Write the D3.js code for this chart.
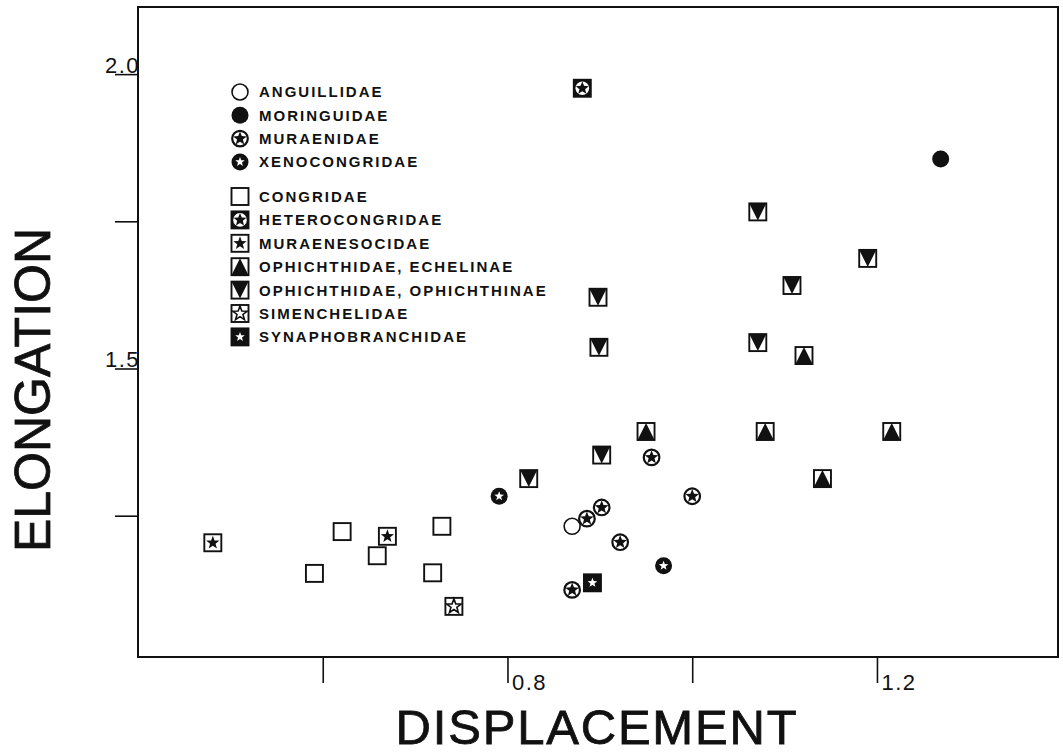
<!DOCTYPE html>
<html>
<head>
<meta charset="utf-8">
<script src="https://cdn.jsdelivr.net/npm/d3@7"></script>
<style>
  body { margin: 0; background: #fff; }
  svg { display: block; }
  .legend text { font-family: "Liberation Sans", Arial, sans-serif; font-weight: bold; font-size: 15px; letter-spacing: 2px; fill: #111; }
  .title { font-family: "Liberation Sans", Arial, sans-serif; font-size: 50px; fill: #111; stroke: #111; stroke-width: 0.8px; }
</style>
</head>
<body>
<script>
// chart size
var width = 1063,
    height = 753;

// data: [displacement, elongation] per family
var anguillidae = [[0.870, 1.232]];
var moringuidae = [[1.269, 1.856]];
var muraenidae = [[0.956, 1.349], [1.000, 1.283], [0.902, 1.264], [0.886, 1.245], [0.922, 1.205], [0.870, 1.124]];
var xenocongridae = [[0.791, 1.283], [0.969, 1.165]];
var congridae = [[0.591, 1.152], [0.621, 1.223], [0.659, 1.182], [0.729, 1.232], [0.719, 1.153]];
var heterocongridae = [[0.881, 1.976]];
var muraenesocidae = [[0.481, 1.204], [0.670, 1.215]];
var echelinae = [[0.950, 1.393], [1.079, 1.393], [1.216, 1.393], [1.141, 1.313], [1.121, 1.522]];
var ophichthinae = [[1.071, 1.766], [1.190, 1.687], [1.108, 1.641], [0.898, 1.621], [0.899, 1.536], [1.071, 1.544], [0.902, 1.353], [0.823, 1.313]];
var simenchelidae = [[0.742, 1.096]];
var synaphobranchidae = [[0.892, 1.136]];

// legend labels (two groups) and the symbol each one uses
var legendGroup1 = ["ANGUILLIDAE", "MORINGUIDAE", "MURAENIDAE", "XENOCONGRIDAE"];
var legendGroup2 = ["CONGRIDAE", "HETEROCONGRIDAE", "MURAENESOCIDAE", "OPHICHTHIDAE, ECHELINAE",
                    "OPHICHTHIDAE, OPHICHTHINAE", "SIMENCHELIDAE", "SYNAPHOBRANCHIDAE"];
var symbolKeys1 = ["anguillidae", "moringuidae", "muraenidae", "xenocongridae"];
var symbolKeys2 = ["congridae", "heterocongridae", "muraenesocidae", "echelinae",
                   "ophichthinae", "simenchelidae", "synaphobranchidae"];

// ticks
var xTicks = [0.6, 0.8, 1.0, 1.2],
    xTickLabels = ["", "0.8", "", "1.2"];
var yTicks = [1.25, 1.5, 1.75, 2.0],
    yTickLabels = ["", "1.5", "", "2.0"];

var series = [
  { key: "anguillidae", points: anguillidae },
  { key: "moringuidae", points: moringuidae },
  { key: "muraenidae", points: muraenidae },
  { key: "xenocongridae", points: xenocongridae },
  { key: "congridae", points: congridae },
  { key: "heterocongridae", points: heterocongridae },
  { key: "muraenesocidae", points: muraenesocidae },
  { key: "echelinae", points: echelinae },
  { key: "ophichthinae", points: ophichthinae },
  { key: "simenchelidae", points: simenchelidae },
  { key: "synaphobranchidae", points: synaphobranchidae }
];

// plot frame
var frameLeft = 138, frameRight = 1058, frameTop = 7, frameBottom = 657;

var x = d3.scaleLinear().domain([0.4, 1.396]).range([frameLeft, frameRight]);
var y = d3.scaleLinear().domain([1.01, 2.114]).range([frameBottom, frameTop]);

var svg = d3.select("body").append("svg")
    .attr("width", width)
    .attr("height", height);

// five-point star path
function star(R, r) {
  var pts = [];
  for (var i = 0; i < 10; i++) {
    var a = -Math.PI / 2 + i * Math.PI / 5;
    var rad = i % 2 ? r : R;
    pts.push([rad * Math.cos(a), rad * Math.sin(a)]);
  }
  return d3.line()(pts) + "Z";
}

// draws one marker into g, centred on 0,0
function marker(g, key) {
  var s = 8.5;
  function box(fill) {
    g.append("rect").attr("x", -s).attr("y", -s).attr("width", 2 * s).attr("height", 2 * s)
      .attr("fill", fill).attr("stroke", "#111").attr("stroke-width", 1.9);
  }
  if (key == "anguillidae") {
    g.append("circle").attr("r", 8).attr("fill", "#fff").attr("stroke", "#111").attr("stroke-width", 1.6);
  } else if (key == "moringuidae") {
    g.append("circle").attr("r", 8.5).attr("fill", "#111");
  } else if (key == "muraenidae") {
    g.append("circle").attr("r", 7.8).attr("fill", "#fff").attr("stroke", "#111").attr("stroke-width", 2.2);
    g.append("path").attr("d", star(7.2, 3.1)).attr("fill", "#111");
  } else if (key == "xenocongridae") {
    g.append("circle").attr("r", 8.5).attr("fill", "#111");
    g.append("path").attr("d", star(5, 2.1)).attr("fill", "#fff");
  } else if (key == "congridae") {
    box("#fff");
  } else if (key == "heterocongridae") {
    box("#111");
    g.append("circle").attr("r", 6.8).attr("fill", "#fff");
    g.append("path").attr("d", star(6.8, 3)).attr("fill", "#111");
  } else if (key == "muraenesocidae") {
    box("#fff");
    g.append("path").attr("d", star(7, 2.9)).attr("fill", "#111");
  } else if (key == "echelinae") {
    box("#fff");
    g.append("path").attr("d", "M0," + (-s) + "L" + s + "," + s + "L" + (-s) + "," + s + "Z").attr("fill", "#111");
  } else if (key == "ophichthinae") {
    box("#fff");
    g.append("path").attr("d", "M" + (-s) + "," + (-s) + "L" + s + "," + (-s) + "L0," + s + "Z").attr("fill", "#111");
  } else if (key == "simenchelidae") {
    box("#fff");
    g.append("path").attr("d", star(7.6, 3.1)).attr("fill", "#fff").attr("stroke", "#111").attr("stroke-width", 1.6);
  } else if (key == "synaphobranchidae") {
    box("#111");
    g.append("path").attr("d", star(5, 2.1)).attr("fill", "#fff");
  }
}

// frame
svg.append("rect")
    .attr("x", frameLeft).attr("y", frameTop)
    .attr("width", frameRight - frameLeft).attr("height", frameBottom - frameTop)
    .attr("fill", "none").attr("stroke", "#111").attr("stroke-width", 2);

// x axis ticks
var xAxis = svg.append("g")
    .attr("transform", "translate(0," + frameBottom + ")")
    .call(d3.axisBottom(x).tickValues(xTicks).tickSize(26).tickFormat(function(d, i) { return xTickLabels[i]; }));
xAxis.select(".domain").remove();
xAxis.selectAll("line").attr("stroke", "#111").attr("stroke-width", 1.6);
xAxis.selectAll("text")
    .attr("text-anchor", "start")
    .attr("x", 4).attr("y", 33).attr("dy", null)
    .attr("fill", "#111")
    .style("font-family", "'Liberation Sans', Arial, sans-serif")
    .style("font-size", "22px")
    .style("letter-spacing", "1.5px");

// y axis ticks
var yAxis = svg.append("g")
    .attr("transform", "translate(" + frameLeft + ",0)")
    .call(d3.axisLeft(y).tickValues(yTicks).tickSize(23).tickFormat(function(d, i) { return yTickLabels[i]; }));
yAxis.select(".domain").remove();
yAxis.selectAll("line").attr("stroke", "#111").attr("stroke-width", 1.6);
yAxis.selectAll("text")
    .attr("text-anchor", "end")
    .attr("x", 2).attr("y", -2).attr("dy", null)
    .attr("fill", "#111")
    .style("font-family", "'Liberation Sans', Arial, sans-serif")
    .style("font-size", "22px")
    .style("letter-spacing", "1.5px");

// points
series.forEach(function(sr) {
  svg.append("g").selectAll("g")
    .data(sr.points)
    .enter().append("g")
    .attr("transform", function(d) { return "translate(" + x(d[0]) + "," + y(d[1]) + ")"; })
    .each(function() { marker(d3.select(this), sr.key); });
});

// legend
var legend = svg.append("g").attr("class", "legend");
var rows = [];
legendGroup1.forEach(function(t, i) { rows.push({ label: t, key: symbolKeys1[i], y: 92 + i * 23.3 }); });
legendGroup2.forEach(function(t, i) { rows.push({ label: t, key: symbolKeys2[i], y: 196.5 + i * 23.4 }); });

var row = legend.selectAll("g")
    .data(rows)
    .enter().append("g")
    .attr("transform", function(d) { return "translate(240," + d.y + ")"; });
row.each(function(d) { marker(d3.select(this), d.key); });
row.append("text")
    .attr("x", 19)
    .attr("dy", "0.36em")
    .text(function(d) { return d.label; });

// axis titles
svg.append("text")
    .attr("class", "title")
    .attr("text-anchor", "middle")
    .attr("transform", "translate(50,390) rotate(-90)")
    .text("ELONGATION");

svg.append("text")
    .attr("class", "title")
    .attr("text-anchor", "middle")
    .attr("x", 597).attr("y", 744)
    .style("font-size", "49px")
    .style("letter-spacing", "1.8px")
    .text("DISPLACEMENT");
</script>
</body>
</html>
